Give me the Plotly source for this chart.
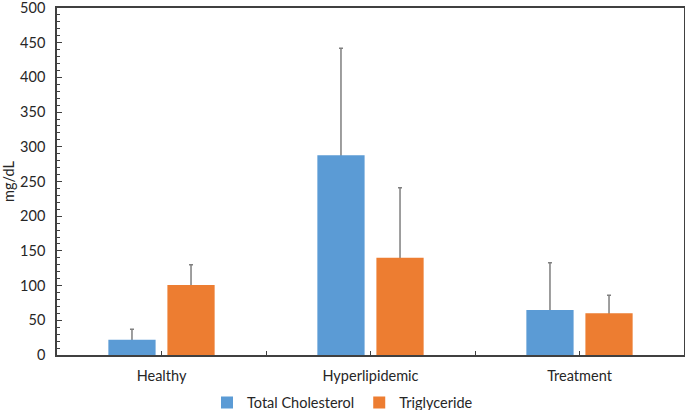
import plotly.graph_objects as go

categories = ["Healthy", "Hyperlipidemic", "Treatment"]
total_cholesterol = [22, 288, 65]
total_cholesterol_err = [15, 154, 68]
triglyceride = [101, 140, 60]
triglyceride_err = [29, 101, 26]
y_ticks = [0, 50, 100, 150, 200, 250, 300, 350, 400, 450, 500]

xpos = list(range(len(categories)))
FONT = "Lato, 'Open Sans', sans-serif"

series = [
    ("Total Cholesterol", total_cholesterol, total_cholesterol_err, "#5B9BD5", "tc"),
    ("Triglyceride", triglyceride, triglyceride_err, "#ED7D31", "tg"),
]

fig = go.Figure()
# error-bar carriers (drawn first, so the visible bars cover the lower part of the whisker)
for name, vals, errs, color, grp in series:
    fig.add_trace(go.Bar(
        name=name, x=xpos, y=vals, offsetgroup=grp, showlegend=False,
        marker=dict(color="rgba(0,0,0,0)", line=dict(width=0)), hoverinfo="skip",
        error_y=dict(type="data", array=errs, symmetric=False, arrayminus=vals,
                     color="#7F7F7F", thickness=1.5, width=2),
    ))
for name, vals, errs, color, grp in series:
    fig.add_trace(go.Bar(
        name=name, x=xpos, y=vals, offsetgroup=grp,
        marker=dict(color=color, line=dict(width=0)),
    ))

tickvals = [-0.5, 0, 0.5, 1, 1.5, 2, 2.5]
ticktext = ["", categories[0], "", categories[1], "", categories[2], ""]

fig.update_layout(
    width=685, height=410,
    margin=dict(l=57, r=1, t=8, b=55, autoexpand=False),
    paper_bgcolor="white", plot_bgcolor="white",
    barmode="group", bargap=0.435, bargroupgap=0.2,
    font=dict(family=FONT, size=14.5, color="#262626"),
    showlegend=True,
    legend=dict(orientation="h", x=0.5, xanchor="center", xref="container",
                y=0.018, yanchor="middle", yref="container",
                font=dict(size=14.5, color="#262626"), traceorder="normal",
                itemwidth=30, bgcolor="rgba(0,0,0,0)"),
    xaxis=dict(range=[-0.5, 2.5], tickmode="array", tickvals=tickvals, ticktext=ticktext,
               ticks="inside", ticklen=4, tickcolor="#404040", tickwidth=1,
               showline=True, linecolor="#404040", linewidth=1.5, mirror=True,
               showgrid=False, zeroline=False, tickfont=dict(size=14.5),
               ticklabelstandoff=7, automargin=False),
    yaxis=dict(range=[0, 500], tickmode="array", tickvals=y_ticks,
               ticks="inside", ticklen=5, tickcolor="#404040", tickwidth=1,
               minor=dict(dtick=10, ticks="inside", ticklen=3, tickcolor="#404040", showgrid=False),
               showline=True, linecolor="#404040", linewidth=1.5, mirror=True,
               showgrid=False, zeroline=False, tickfont=dict(size=14.5),
               ticklabelstandoff=7, automargin=False, ticklabeloverflow="allow",
               title=dict(text="mg/dL", font=dict(size=14.5), standoff=4)),
)

fig.write_html("out.html", post_script="document.body.style.margin='0';",
               config={"displayModeBar": False})
